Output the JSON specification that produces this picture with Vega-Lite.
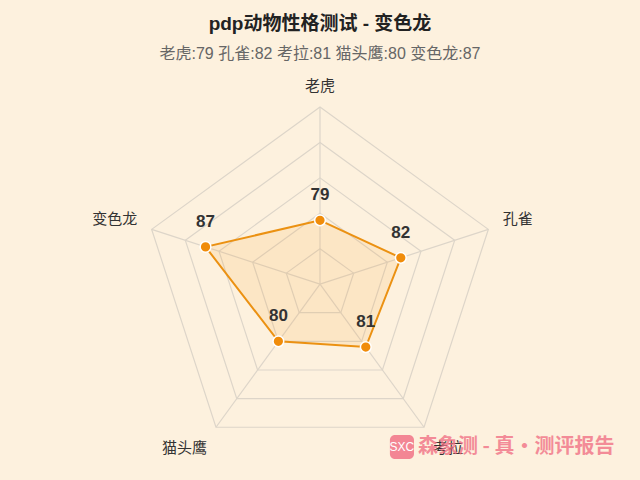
{
  "$schema": "https://vega.github.io/schema/vega-lite/v6.json",
  "width": 640,
  "height": 480,
  "autosize": "none",
  "padding": 0,
  "background": "#FDF1DE",
  "config": {"view": {"stroke": null}},
  "title": {
    "text": "pdp动物性格测试 - 变色龙",
    "subtitle": "老虎:79 孔雀:82 考拉:81 猫头鹰:80 变色龙:87",
    "anchor": "middle",
    "offset": -62,
    "font": "Liberation Sans, Noto Sans CJK SC",
    "fontSize": 19,
    "fontWeight": "bold",
    "color": "#222222",
    "subtitleFont": "Liberation Sans, Noto Sans CJK SC",
    "subtitleFontSize": 16,
    "subtitleColor": "#666666",
    "subtitlePadding": 12
  },
  "datasets": {
    "scores": [
      {"animal": "老虎", "value": 79, "idx": 0},
      {"animal": "孔雀", "value": 82, "idx": 1},
      {"animal": "考拉", "value": 81, "idx": 2},
      {"animal": "猫头鹰", "value": 80, "idx": 3},
      {"animal": "变色龙", "value": 87, "idx": 4}
    ],
    "rings": [
      {"level": 75, "idx": 0}, {"level": 75, "idx": 1}, {"level": 75, "idx": 2}, {"level": 75, "idx": 3}, {"level": 75, "idx": 4},
      {"level": 80, "idx": 0}, {"level": 80, "idx": 1}, {"level": 80, "idx": 2}, {"level": 80, "idx": 3}, {"level": 80, "idx": 4},
      {"level": 85, "idx": 0}, {"level": 85, "idx": 1}, {"level": 85, "idx": 2}, {"level": 85, "idx": 3}, {"level": 85, "idx": 4},
      {"level": 90, "idx": 0}, {"level": 90, "idx": 1}, {"level": 90, "idx": 2}, {"level": 90, "idx": 3}, {"level": 90, "idx": 4},
      {"level": 95, "idx": 0}, {"level": 95, "idx": 1}, {"level": 95, "idx": 2}, {"level": 95, "idx": 3}, {"level": 95, "idx": 4}
    ],
    "mark": [
      {"name": "SXC", "brand": "森象测 - 真·测评报告"}
    ]
  },
  "resolve": {"scale": {"x": "shared", "y": "shared"}},
  "layer": [
    {
      "data": {"name": "rings"},
      "transform": [
        {"calculate": "datum.idx * 2 * PI / 5", "as": "a"},
        {"calculate": "(datum.level - 70) / 25", "as": "r"},
        {"calculate": "datum.r * sin(datum.a)", "as": "px"},
        {"calculate": "datum.r * cos(datum.a)", "as": "py"}
      ],
      "mark": {"type": "line", "interpolate": "linear-closed", "stroke": "#DDD5C9", "strokeWidth": 1.2},
      "encoding": {
        "x": {"field": "px", "type": "quantitative", "scale": {"domain": [-1.808, 1.808], "nice": false, "zero": false}, "axis": null},
        "y": {"field": "py", "type": "quantitative", "scale": {"domain": [-1.107, 1.605], "nice": false, "zero": false}, "axis": null},
        "detail": {"field": "level", "type": "nominal"},
        "order": {"field": "idx", "type": "quantitative"}
      }
    },
    {
      "data": {"name": "scores"},
      "transform": [
        {"calculate": "datum.idx * 2 * PI / 5", "as": "a"},
        {"calculate": "sin(datum.a)", "as": "ex"},
        {"calculate": "cos(datum.a)", "as": "ey"},
        {"calculate": "0", "as": "zero"}
      ],
      "mark": {"type": "rule", "stroke": "#DDD5C9", "strokeWidth": 1.2},
      "encoding": {
        "x": {"field": "zero", "type": "quantitative"},
        "y": {"field": "zero", "type": "quantitative"},
        "x2": {"field": "ex"},
        "y2": {"field": "ey"}
      }
    },
    {
      "data": {"name": "scores"},
      "transform": [
        {"calculate": "datum.idx * 2 * PI / 5", "as": "a"},
        {"calculate": "(datum.value - 70) / 25", "as": "r"},
        {"calculate": "datum.r * sin(datum.a)", "as": "px"},
        {"calculate": "datum.r * cos(datum.a)", "as": "py"}
      ],
      "layer": [
        {
          "mark": {"type": "line", "interpolate": "linear-closed", "fill": "#F5A033", "fillOpacity": 0.14, "stroke": "#EB9112", "strokeWidth": 2},
          "encoding": {
            "x": {"field": "px", "type": "quantitative"},
            "y": {"field": "py", "type": "quantitative"},
            "order": {"field": "idx", "type": "quantitative"}
          }
        },
        {
          "mark": {"type": "point", "shape": "circle", "filled": true, "size": 115, "fill": "#F08C0A", "stroke": "#FFFFFF", "strokeWidth": 1.5, "opacity": 1},
          "encoding": {
            "x": {"field": "px", "type": "quantitative"},
            "y": {"field": "py", "type": "quantitative"}
          }
        },
        {
          "mark": {"type": "text", "font": "Liberation Sans", "fontSize": 17, "fontWeight": "bold", "fill": "#333333", "baseline": "alphabetic", "dy": -20},
          "encoding": {
            "x": {"field": "px", "type": "quantitative"},
            "y": {"field": "py", "type": "quantitative"},
            "text": {"field": "value", "type": "quantitative"}
          }
        }
      ]
    },
    {
      "data": {"name": "scores"},
      "transform": [
        {"calculate": "datum.idx * 2 * PI / 5", "as": "a"},
        {"calculate": "1.085 * sin(datum.a)", "as": "px"},
        {"calculate": "1.085 * cos(datum.a)", "as": "py"}
      ],
      "mark": {
        "type": "text",
        "font": "Noto Sans CJK SC",
        "fontSize": 15,
        "fill": "#333333",
        "dy": 2,
        "align": {"expr": "datum.px > 0.01 ? 'left' : (datum.px < -0.01 ? 'right' : 'center')"},
        "baseline": {"expr": "datum.py > 0 ? 'bottom' : 'top'"}
      },
      "encoding": {
        "x": {"field": "px", "type": "quantitative"},
        "y": {"field": "py", "type": "quantitative"},
        "text": {"field": "animal", "type": "nominal"}
      }
    },
    {
      "data": {"name": "mark"},
      "layer": [
        {
          "mark": {"type": "rect", "fill": "#F27A8C", "cornerRadius": 5, "opacity": 0.9},
          "encoding": {
            "x": {"datum": 0.395, "type": "quantitative"},
            "x2": {"datum": 0.531},
            "y": {"datum": -0.853, "type": "quantitative"},
            "y2": {"datum": -0.989}
          }
        },
        {
          "mark": {"type": "text", "font": "Liberation Sans", "fontSize": 12, "fill": "#FFFFFF", "align": "center", "baseline": "middle"},
          "encoding": {
            "x": {"datum": 0.463, "type": "quantitative"},
            "y": {"datum": -0.921, "type": "quantitative"},
            "text": {"field": "name", "type": "nominal"}
          }
        },
        {
          "mark": {"type": "text", "font": "Noto Sans CJK SC", "fontSize": 20, "fontWeight": "bold", "fill": "#F06A80", "opacity": 0.75, "align": "left", "baseline": "middle"},
          "encoding": {
            "x": {"datum": 0.554, "type": "quantitative"},
            "y": {"datum": -0.921, "type": "quantitative"},
            "text": {"field": "brand", "type": "nominal"}
          }
        }
      ]
    }
  ]
}
